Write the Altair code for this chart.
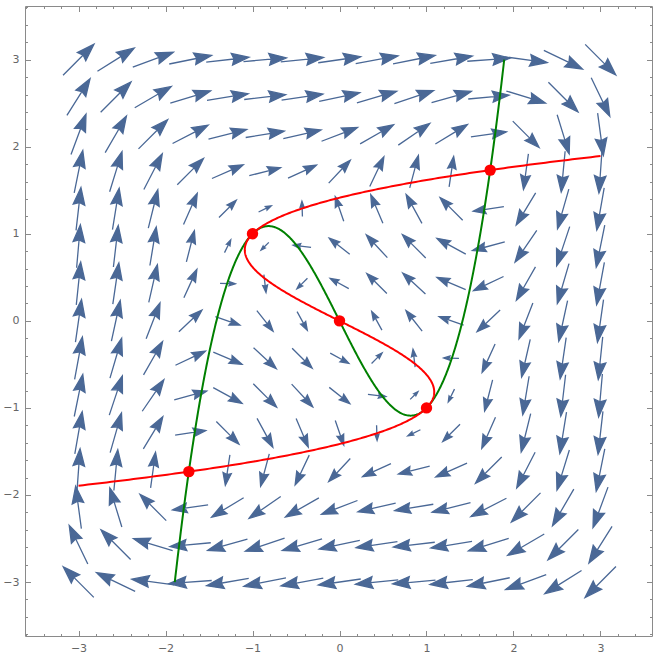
import numpy as np
import pandas as pd
import altair as alt

# Sample grid for the direction field (15 x 15 points over [-3, 3])
grid_x = [-3.0, -2.571, -2.143, -1.714, -1.286, -0.857, -0.429, 0.0,
          0.429, 0.857, 1.286, 1.714, 2.143, 2.571, 3.0]
grid_y = list(grid_x)

# Equilibria: intersections of the two nullclines
eq_x = [-1.732, -1.0, 0.0, 1.0, 1.732]
eq_y = [-1.732, 1.0, 0.0, -1.0, 1.732]

# Frame ticks
major_ticks = [-3, -2, -1, 0, 1, 2, 3]
all_ticks = [round(-3.6 + 0.2 * i, 1) for i in range(37)]

ARROW_COLOR = "#4a6896"
FRAME_COLOR = "#8a8a8a"
LABEL_COLOR = "#666666"


def field(x, y):
    """x' = y^3 - 2y - x,  y' = y - x^3 + 2x"""
    return y ** 3 - 2 * y - x, y - x ** 3 + 2 * x


rows = []
for gx in grid_x:
    for gy in grid_y:
        u, v = field(gx, gy)
        m = float(np.hypot(u, v))
        if m < 1e-9:
            continue
        length = 45.0 * m / (m + 1.0)          # arrow length in pixels
        ang = (np.degrees(np.arctan2(u, v)) + 360.0) % 360.0
        rows.append({"x": gx, "y": gy, "size": length ** 2, "angle": ang})
field_df = pd.DataFrame(rows)

# Nullclines, traced over the plotting square |x|,|y| <= 3
t = np.linspace(-1.8933, 1.8933, 600)
green_df = pd.DataFrame({"x": t, "y": t ** 3 - 2 * t, "t": t})   # y' = 0
red_df = pd.DataFrame({"x": t ** 3 - 2 * t, "y": t, "t": t})     # x' = 0
eq_df = pd.DataFrame({"x": eq_x, "y": eq_y})

W, H = 627, 630
xs = alt.Scale(domain=[-3.615, 3.592], nice=False, zero=False)
ys = alt.Scale(domain=[-3.62, 3.617], nice=False, zero=False)

is_major = "abs(datum.value - round(datum.value)) < 0.001"
tick_size = {"condition": {"test": is_major, "value": 5.5}, "value": 2.5}

# Labelled axes (left / bottom), no ticks
x_labels = alt.Axis(values=major_ticks, ticks=False, domain=False, grid=False,
                    labelPadding=6, labelColor=LABEL_COLOR, labelFontSize=11,
                    labelFont="DejaVu Sans", title=None)
y_labels = alt.Axis(values=major_ticks, ticks=False, domain=False, grid=False,
                    labelPadding=6, labelColor=LABEL_COLOR, labelFontSize=11,
                    labelFont="DejaVu Sans", title=None)


def tick_axis(orient, offset):
    # Inward-pointing frame ticks: an axis of the opposite side moved across the plot
    return alt.Axis(orient=orient, offset=offset, values=all_ticks, labels=False,
                    domain=False, grid=False, tickColor=FRAME_COLOR, tickWidth=1,
                    tickSize=tick_size, title=None)


# Arrow glyph pointing up: shaft from tail (0,1) plus a notched head at (0,-1)
ARROW = "M0,1L0,-0.4M0,-1L0.27,-0.2L0,-0.3L-0.27,-0.2Z"

arrows = alt.Chart(field_df).mark_point(
    shape=ARROW, fill=ARROW_COLOR, stroke=ARROW_COLOR, strokeWidth=1.3,
    strokeJoin="miter", opacity=1, fillOpacity=1
).encode(
    x=alt.X("x:Q", scale=xs, axis=x_labels),
    y=alt.Y("y:Q", scale=ys, axis=y_labels),
    size=alt.Size("size:Q", scale=None),
    angle=alt.Angle("angle:Q", scale=None),
)

green = alt.Chart(green_df).mark_line(color="#008000", strokeWidth=2).encode(
    x=alt.X("x:Q", scale=xs, axis=tick_axis("top", -H)),
    y=alt.Y("y:Q", scale=ys, axis=tick_axis("right", -W)),
    order="t:Q",
)

red = alt.Chart(red_df).mark_line(color="#ff0000", strokeWidth=2).encode(
    x=alt.X("x:Q", scale=xs, axis=tick_axis("bottom", -H)),
    y=alt.Y("y:Q", scale=ys, axis=tick_axis("left", -W)),
    order="t:Q",
)

points = alt.Chart(eq_df).mark_point(
    shape="circle", filled=True, color="#ff0000", size=130, opacity=1
).encode(
    x=alt.X("x:Q", scale=xs, axis=None),
    y=alt.Y("y:Q", scale=ys, axis=None),
)

chart = (
    alt.layer(arrows, green, red, points)
    .resolve_axis(x="independent", y="independent")
    .properties(
        width=W, height=H,
        autosize=alt.AutoSizeParams(type="none"),
        padding={"left": 25, "top": 6, "right": 1, "bottom": 18},
        background="white",
    )
    .configure_view(stroke=FRAME_COLOR, strokeWidth=1)
)

chart.save("out.html", embed_options={"renderer": "svg", "actions": False})
